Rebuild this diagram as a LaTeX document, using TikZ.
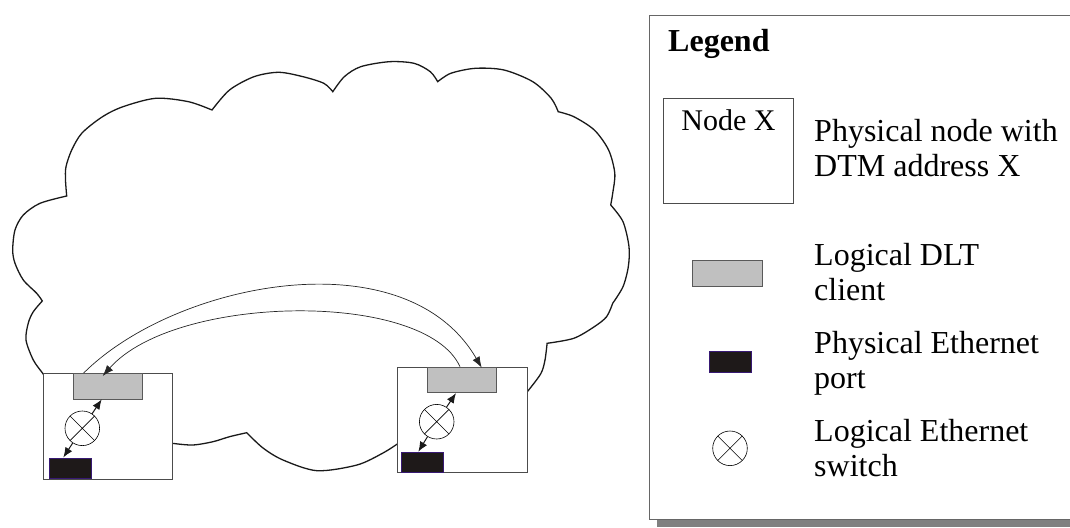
\documentclass[tikz,border=0pt]{standalone}
\usepackage{fontspec}
\setmainfont{Liberation Serif}
\usetikzlibrary{arrows.meta}
\definecolor{portfill}{RGB}{30,25,25}
\definecolor{portline}{RGB}{55,25,115}
\definecolor{clientfill}{RGB}{192,192,192}
\begin{document}
\begin{tikzpicture}[x=1pt,y=-1pt,
  cloudline/.style={line width=1.3pt, draw=black!90},
  nodebox/.style={draw=black!70, fill=white, line width=0.9pt, inner sep=0pt,
    minimum width=129.5pt, minimum height=105.5pt, anchor=north west},
  client/.style={draw=black!65, fill=clientfill, line width=0.9pt, inner sep=0pt,
    minimum width=69.5pt, minimum height=25.5pt, anchor=north west},
  port/.style={draw=portline, fill=portfill, line width=0.8pt, inner sep=0pt,
    minimum width=41.5pt, minimum height=20.5pt, anchor=north west},
  switch/.style={circle, draw=black, fill=white, line width=0.6pt, inner sep=0pt,
    minimum size=34.6pt,
    path picture={\draw[line width=0.6pt] (path picture bounding box.north west) -- (path picture bounding box.south east)
      (path picture bounding box.north east) -- (path picture bounding box.south west);}},
  link/.style={-{Latex[length=10pt,width=8pt]}, line width=1pt, draw=black!90},
  arcline/.style={-{Latex[length=11pt,width=8pt]}, line width=0.7pt, draw=black!85},
  legtext/.style={anchor=base west, inner sep=0pt, font=\fontsize{32}{35}\selectfont},
]
\useasboundingbox (0,0) rectangle (1070,527);
\clip (0,0) rectangle (1070,527);

% cloud
\draw[cloudline]
  plot[smooth] coordinates {(46,378) (42.7,373.3) (33.3,360) (26,340) (28.3,323) (33.3,311.7) (42.3,301)}
  -- plot[smooth] coordinates {(42.3,301) (36.7,293.3) (23.3,280) (15,263.3) (12.7,250) (15,230) (23.3,215) (40,203.3) (66.7,196)}
  -- plot[smooth] coordinates {(66.7,196) (65.5,180) (66,166.7) (71.7,150) (82,133) (102.5,116.7) (123,106.7) (155.7,98.3) (188.5,101.7) (212,110)}
  -- plot[smooth] coordinates {(212,110) (229.5,90) (254,76.7) (278.7,72.3) (303,76.7) (323.8,83.3) (332.8,91.7)}
  -- plot[smooth] coordinates {(332.8,91.7) (344.3,76.7) (360.7,66.7) (389.3,61.7) (414,63.3) (430.3,71.7) (437.7,81.7)}
  -- plot[smooth] coordinates {(437.7,81.7) (450.8,73.3) (475.4,68.3) (504,70) (532.8,81.7) (551.2,98.3) (558.2,111.7)}
  -- plot[smooth] coordinates {(558.2,111.7) (573.8,116.7) (594.3,130) (608.6,150) (614.8,173.3) (612.7,193.3) (610.7,205)}
  -- plot[smooth] coordinates {(610.7,205) (623,221.7) (629,246.7) (628.3,266.7) (623,286.7) (612.7,303.3)}
  -- plot[smooth] coordinates {(612.7,303.3) (606.6,316.7) (594.3,326.7) (573.8,338.3) (547.1,343.3)}
  -- plot[smooth] coordinates {(547.1,343.3) (545,360) (541,373.3) (528.7,390) (520,400)}
  -- (402,443)
  -- plot[smooth] coordinates {(402,441) (398.8,443) (383,453) (357,465) (317,470.7) (283,460) (263,448) (246.7,432.7)}
  -- plot[smooth] coordinates {(246.7,432.7) (229.5,436.7) (213,441.7) (192.6,445) (172,443.3) (168,442.5)}
  -- cycle;

% left physical node
\node[nodebox] (L) at (42.7,373) {};
\node[client] (Lc) at (72.7,373) {};
\node[port] (Lp) at (49.3,457.5) {};
\node[switch] (Ls) at (82.3,428.3) {};
\draw[link] (Ls) -- ([xshift=29pt]Lc.south west);
\draw[link] (Ls) -- ([xshift=14pt]Lp.north west);

% right physical node
\node[nodebox] (R) at (397.3,366.7) {};
\node[client] (Rc) at (426.7,366.7) {};
\node[port] (Rp) at (401,451.7) {};
\node[switch] (Rs) at (436.7,421.7) {};
\draw[link] (Rs) -- ([xshift=29.3pt]Rc.south west);
\draw[link] (Rs) -- ([xshift=17.3pt]Rp.north west);

% arcs between the DLT clients
\draw[arcline] ([xshift=11pt]Lc.north west) .. controls (175,282) and (405,236) .. ([xshift=55pt,yshift=-1pt]Rc.north west);
\draw[arcline] ([xshift=33.3pt]Rc.north west) .. controls (425,290) and (175,294) .. ([xshift=30pt,yshift=-3pt]Lc.north west);

% legend
\fill[black!50] (657,23) rectangle (1093,527);
\node[draw=black!60, fill=white, line width=1.3pt, inner sep=0pt, anchor=north west,
  minimum width=436pt, minimum height=504pt] (legend) at (649,15) {};
\node[anchor=base west, inner sep=0pt, font=\fontsize{32}{35}\selectfont\bfseries] (legtitle) at (668,51.7) {Legend};

\node[nodebox] (legnode) at (663.3,97.7) {};
\node[anchor=base, inner sep=0pt, font=\fontsize{30}{33}\selectfont] (legnodetxt) at ([yshift=-32.3pt]legnode.north) {Node X};
\node[legtext] (t1a) at (814,141.7) {Physical node with};
\node[legtext] (t1b) at (814,176.7) {DTM address X};

\node[client] (legclient) at (692.3,260) {};
\node[legtext] (t2a) at (814,265) {Logical DLT};
\node[legtext] (t2b) at (814,300) {client};

\node[port] (legport) at (709.3,351) {};
\node[legtext] (t3a) at (814,353.5) {Physical Ethernet};
\node[legtext] (t3b) at (814,388.5) {port};

\node[switch] (legswitch) at (730,448.3) {};
\node[legtext] (t4a) at (814,441.7) {Logical Ethernet};
\node[legtext] (t4b) at (814,476.5) {switch};
\end{tikzpicture}
\end{document}
